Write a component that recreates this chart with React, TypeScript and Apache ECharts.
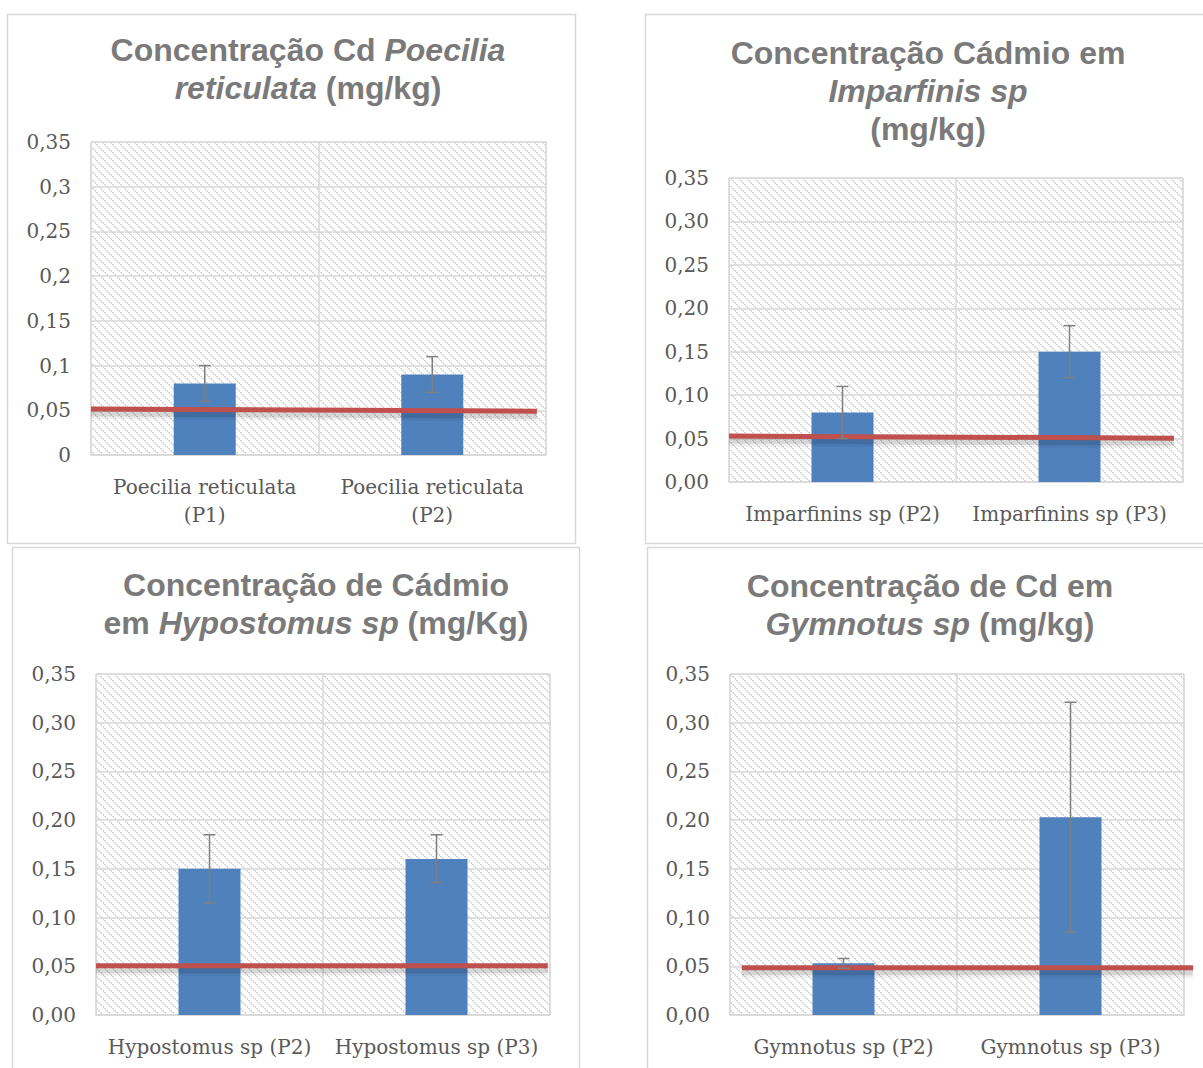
import React, { useEffect, useRef } from "react";
import * as echarts from "echarts";

// ---------- data ----------
const yTicksShort = ["0", "0,05", "0,1", "0,15", "0,2", "0,25", "0,3", "0,35"];
const yTicksFixed = ["0,00", "0,05", "0,10", "0,15", "0,20", "0,25", "0,30", "0,35"];

const categories1 = ["Poecilia reticulata\n(P1)", "Poecilia reticulata\n(P2)"];
const means1 = [0.08, 0.09];
const errLow1 = [0.06, 0.07];
const errHigh1 = [0.1, 0.11];
const limitX1 = [0, 0.98];
const limitY1 = [0.0515, 0.049];

const categories2 = ["Imparfinins sp (P2)", "Imparfinins sp (P3)"];
const means2 = [0.08, 0.15];
const errLow2 = [0.05, 0.12];
const errHigh2 = [0.11, 0.18];
const limitX2 = [0, 0.98];
const limitY2 = [0.053, 0.0505];

const categories3 = ["Hypostomus sp (P2)", "Hypostomus sp (P3)"];
const means3 = [0.15, 0.16];
const errLow3 = [0.115, 0.136];
const errHigh3 = [0.185, 0.185];
const limitX3 = [0, 0.995];
const limitY3 = [0.0505, 0.0505];

const categories4 = ["Gymnotus sp (P2)", "Gymnotus sp (P3)"];
const means4 = [0.053, 0.203];
const errLow4 = [0.048, 0.085];
const errHigh4 = [0.058, 0.321];
const limitX4 = [0.026, 1.02];
const limitY4 = [0.0485, 0.0485];

const titleTexts = [
  "{n|Concentração Cd }{i|Poecilia}\n{i|reticulata}{n| (mg/kg)}",
  "{n|Concentração Cádmio em}\n{i|Imparfinis sp}\n{n|(mg/kg)}",
  "{n|Concentração de Cádmio}\n{n|em }{i|Hypostomus sp}{n| (mg/Kg)}",
  "{n|Concentração de Cd em}\n{i|Gymnotus sp}{n| (mg/kg)}",
];

// ---------- layout ----------
const panels = [
  { cats: categories1, means: means1, lo: errLow1, hi: errHigh1, lx: limitX1, ly: limitY1, ticks: yTicksShort,
    grid: { left: 91, top: 142, width: 455, height: 313 }, title: { x: 308, y: 31 },
    box: { x: 7, y: 14, w: 568, h: 529 } },
  { cats: categories2, means: means2, lo: errLow2, hi: errHigh2, lx: limitX2, ly: limitY2, ticks: yTicksFixed,
    grid: { left: 729, top: 178, width: 454, height: 304 }, title: { x: 928, y: 34 },
    box: { x: 645, y: 14, w: 570, h: 529 } },
  { cats: categories3, means: means3, lo: errLow3, hi: errHigh3, lx: limitX3, ly: limitY3, ticks: yTicksFixed,
    grid: { left: 96, top: 674, width: 454, height: 341 }, title: { x: 316, y: 566 },
    box: { x: 12, y: 547, w: 567, h: 530 } },
  { cats: categories4, means: means4, lo: errLow4, hi: errHigh4, lx: limitX4, ly: limitY4, ticks: yTicksFixed,
    grid: { left: 730, top: 674, width: 454, height: 341 }, title: { x: 930, y: 567 },
    box: { x: 647, y: 547, w: 570, h: 530 } },
];

function makeHatch(): string {
  const c = document.createElement("canvas");
  c.width = 8;
  c.height = 8;
  const ctx = c.getContext("2d")!;
  ctx.fillStyle = "#ffffff";
  ctx.fillRect(0, 0, 8, 8);
  ctx.fillStyle = "#d6d6d6";
  for (let i = 0; i < 8; i++) {
    ctx.fillRect(i, i, 1, 1);
    if (i % 2 === 0) ctx.fillRect((i + 1) % 8, i, 1, 1);
  }
  return c.toDataURL();
}

export default function App() {
  const ref = useRef<HTMLDivElement>(null);
  useEffect(() => {
    document.body.style.margin = "0";
    const chart = echarts.init(ref.current!, null, { renderer: "svg" });
    const hatch = { image: makeHatch(), repeat: "repeat", imageWidth: 8, imageHeight: 8 };

    const grids: any[] = [];
    const xAxes: any[] = [];
    const yAxes: any[] = [];
    const series: any[] = [];
    const titles: any[] = [];
    const graphics: any[] = [];
    const axisFont = { fontFamily: "DejaVu Serif", fontSize: 20, color: "#595959" };

    panels.forEach((p, i) => {
      grids.push({
        ...p.grid,
        show: true,
        backgroundColor: hatch,
        borderColor: "#d9d9d9",
        borderWidth: 1,
      });
      xAxes.push({
        type: "category",
        gridIndex: i,
        data: p.cats,
        axisLine: { show: true, lineStyle: { color: "#d9d9d9", width: 1.5 } },
        axisTick: { show: false },
        splitLine: { show: true, lineStyle: { color: "#d9d9d9", width: 1.5 } },
        axisLabel: { ...axisFont, margin: 18, lineHeight: 28, interval: 0 },
      });
      xAxes.push({ type: "value", gridIndex: i, min: 0, max: 1, show: false });
      yAxes.push({
        type: "value",
        gridIndex: i,
        min: 0,
        max: 0.35,
        interval: 0.05,
        axisLine: { show: false },
        axisTick: { show: false },
        splitLine: { show: true, lineStyle: { color: "#d9d9d9", width: 1.5 } },
        axisLabel: {
          ...axisFont,
          margin: 20,
          formatter: (v: number) => p.ticks[Math.round(v / 0.05)] ?? "",
        },
      });
      series.push({
        type: "bar",
        xAxisIndex: i * 2,
        yAxisIndex: i,
        data: p.means,
        barWidth: 62,
        itemStyle: { color: "#4F81BD" },
        z: 2,
      });
      // reference limit line (red, with soft shadow below)
      series.push({
        type: "custom",
        xAxisIndex: i * 2 + 1,
        yAxisIndex: i,
        data: [[p.lx[0], p.ly[0], p.lx[1], p.ly[1]]],
        z: 3,
        renderItem: (params: any, api: any) => {
          const a = api.coord([api.value(0), api.value(1)]);
          const b = api.coord([api.value(2), api.value(3)]);
          const shift = (d: number) => [[a[0], a[1] + d], [b[0], b[1] + d]];
          return {
            type: "group",
            children: [
              { type: "polyline", shape: { points: shift(4) }, style: { stroke: "rgba(0,0,0,0.06)", lineWidth: 12, fill: "none" } },
              { type: "polyline", shape: { points: shift(4) }, style: { stroke: "rgba(0,0,0,0.1)", lineWidth: 7, fill: "none" } },
              { type: "polyline", shape: { points: shift(0) }, style: { stroke: "#C0504D", lineWidth: 5, fill: "none" } },
            ],
          };
        },
      });
      series.push({
        type: "custom",
        xAxisIndex: i * 2,
        yAxisIndex: i,
        data: p.means.map((_, k) => [k, p.lo[k], p.hi[k]]),
        z: 4,
        renderItem: (params: any, api: any) => {
          const x = api.value(0);
          const lo = api.coord([x, api.value(1)]);
          const hi = api.coord([x, api.value(2)]);
          const cap = 6;
          const st = { stroke: "#7f7f7f", lineWidth: 1.5 };
          return {
            type: "group",
            children: [
              { type: "line", shape: { x1: hi[0], y1: hi[1], x2: lo[0], y2: lo[1] }, style: st },
              { type: "line", shape: { x1: hi[0] - cap, y1: hi[1], x2: hi[0] + cap, y2: hi[1] }, style: st },
              { type: "line", shape: { x1: lo[0] - cap, y1: lo[1], x2: lo[0] + cap, y2: lo[1] }, style: st },
            ],
          };
        },
      });
      titles.push({
        text: titleTexts[i],
        left: p.title.x,
        top: p.title.y,
        textAlign: "center",
        padding: 0,
        textStyle: {
          rich: {
            n: { fontFamily: "Liberation Sans", fontWeight: "bold", fontSize: 32, color: "#7a7a7a", lineHeight: 38, align: "center" },
            i: { fontFamily: "Liberation Sans", fontWeight: "bold", fontStyle: "italic", fontSize: 32, color: "#7a7a7a", lineHeight: 38, align: "center" },
          },
        },
      });
      graphics.push({
        type: "rect",
        shape: { x: p.box.x + 0.5, y: p.box.y + 0.5, width: p.box.w, height: p.box.h },
        style: { fill: "none", stroke: "#d9d9d9", lineWidth: 1.5 },
        silent: true,
        z: -10,
      });
    });

    chart.setOption({
      animation: false,
      backgroundColor: "#ffffff",
      title: titles,
      grid: grids,
      xAxis: xAxes,
      yAxis: yAxes,
      series,
      graphic: graphics,
    });
    return () => chart.dispose();
  }, []);
  return <div ref={ref} style={{ width: 1203, height: 1068 }} />;
}
